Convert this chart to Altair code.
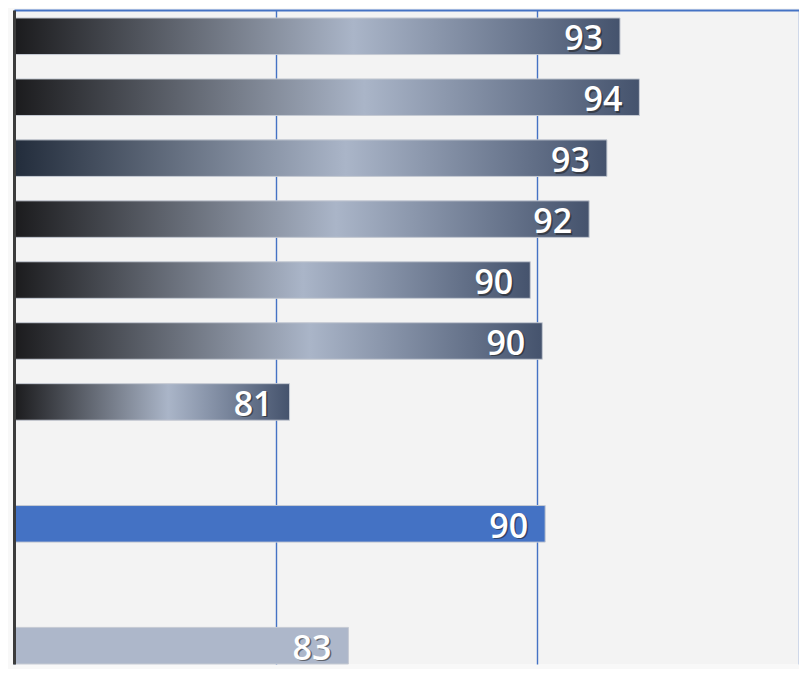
import altair as alt
import pandas as pd

# ---- data ----
categories = ["Row 1", "Row 2", "Row 3", "Row 4", "Row 5", "Row 6", "Row 7",
              "Row 8", "Row 9", "Row 10", "Row 11"]
values = [93.16, 93.9, 92.66, 91.98, 89.73, 90.19, 80.53, None, 90.3, None, 82.78]
x_ticks = [70, 80, 90, 100]
x_domain = [70, 100]

gradient_rows = ["Row 1", "Row 2", "Row 4", "Row 5", "Row 6", "Row 7"]
navy_rows = ["Row 3"]
highlight_rows = ["Row 9"]
light_rows = ["Row 11"]

df = pd.DataFrame({"category": categories, "value": values})

BLUE = "#4472C4"

steel = alt.Gradient(
    gradient="linear", x1=0, y1=0, x2=1, y2=0,
    stops=[alt.GradientStop(offset=0, color="#1b1b1d"),
           alt.GradientStop(offset=0.56, color="#aab5c8"),
           alt.GradientStop(offset=1, color="#45536d")])
steel_navy = alt.Gradient(
    gradient="linear", x1=0, y1=0, x2=1, y2=0,
    stops=[alt.GradientStop(offset=0, color="#222c3b"),
           alt.GradientStop(offset=0.56, color="#aab5c8"),
           alt.GradientStop(offset=1, color="#45536d")])

H = 654
y_enc = alt.Y("category:N", sort=categories,
              scale=alt.Scale(domain=categories, paddingInner=0.4,
                              paddingOuter=0.0655, align=1),
              axis=alt.Axis(labels=False, ticks=False, title=None, grid=False,
                            domainColor="#3c3c3c", domainWidth=3, zindex=1))
x_enc = alt.X("value:Q",
              scale=alt.Scale(domain=x_domain, nice=False, zero=False),
              axis=alt.Axis(orient="top", values=x_ticks, labels=False, ticks=False,
                            title=None, domainColor=BLUE, domainWidth=2,
                            grid=True, gridColor=BLUE, gridWidth=1.4, gridOpacity=1))

base = alt.Chart(df).encode(y=y_enc, x=x_enc)

def bars(rows, fill):
    return base.transform_filter(
        alt.FieldOneOfPredicate(field="category", oneOf=rows)
    ).mark_bar(fill=fill, stroke="#c5cad3", strokeWidth=1).encode(
        x2=alt.datum(x_domain[0]))

bar_layers = [
    bars(gradient_rows, steel),
    bars(navy_rows, steel_navy),
    bars(highlight_rows, BLUE),
    bars(light_rows, "#adb7ca"),
]

valid = base.transform_filter("isValid(datum.value)")
shadow = valid.mark_text(align="right", baseline="middle", dx=-15.5, dy=5.5,
                         fontSize=34, font="Open Sans", fontWeight=600,
                         color="#202020", opacity=0.55).encode(
    text=alt.Text("value:Q", format=".0f"))
labels = valid.mark_text(align="right", baseline="middle", dx=-17, dy=4,
                         fontSize=34, font="Open Sans", fontWeight=600,
                         color="white").encode(
    text=alt.Text("value:Q", format=".0f"))

chart = alt.layer(*bar_layers, shadow, labels).properties(
    width=785, height=H,
    padding={"left": 6, "top": 2, "right": 0, "bottom": 5},
    autosize=alt.AutoSizeParams(type="none"),
    background="#f8f8f8",
).configure_view(stroke=None, fill="#f3f3f3")

chart.save("out.html", embed_options={"renderer": "svg", "actions": False})
